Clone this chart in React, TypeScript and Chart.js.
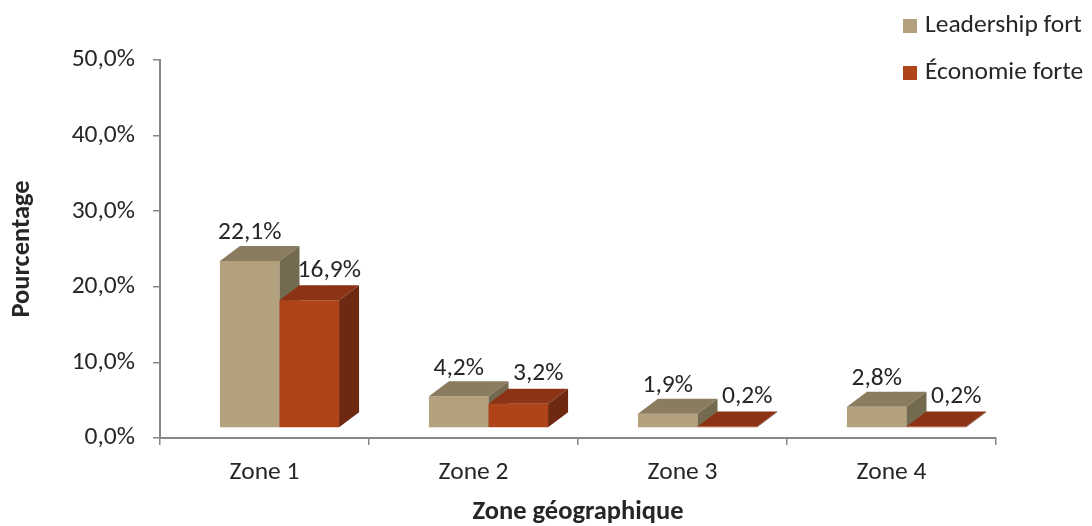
import React, { useEffect, useRef } from "react";
import { Chart, registerables } from "chart.js";

Chart.register(...registerables);

// ---- data ----
const categories = ["Zone 1", "Zone 2", "Zone 3", "Zone 4"];
const seriesNames = ["Leadership fort", "Économie forte"];
const leadershipFort = [22.1, 4.2, 1.9, 2.8];
const economieForte = [16.9, 3.2, 0.2, 0.2];
const yTickValues = [0, 10, 20, 30, 40, 50];
const xTitle = "Zone géographique";
const yTitle = "Pourcentage";

// ---- styles ----
const FONT = "Calibri, Carlito, 'Open Sans', sans-serif";
const FS = 25.5;
const TFS = 26.5;
const TEXT = "#262626";
const AXIS = "#878787";
const FACES = [
  { front: "#B3A07D", top: "#8A7D5F", side: "#746A50" },
  { front: "#B04318", top: "#8B3314", side: "#6F2910" },
];
const DEPTH_X = 20;
const DEPTH_Y = 15;
const SHIFT_X = 15;
const SHIFT_Y = 10;
const LABEL_DX = [0, 20];
const LABEL_DY = [28, 30];

const fmt = (v: number) => v.toFixed(1).replace(".", ",") + "%";

const bars3d = {
  id: "bars3d",
  afterDatasetsDraw(chart: any) {
    const ctx = chart.ctx;
    const n = chart.data.labels.length;
    const metas = chart.data.datasets.map((_: any, i: number) => chart.getDatasetMeta(i));
    ctx.save();
    for (let j = 0; j < n; j++) {
      metas.forEach((meta: any, i: number) => {
        const el = meta.data[j];
        const { x, y, base, width } = el.getProps(["x", "y", "base", "width"], true);
        const l = x - width / 2 + SHIFT_X;
        const r = x + width / 2 + SHIFT_X;
        const t = y - SHIFT_Y;
        const b = base - SHIFT_Y;
        const f = FACES[i];
        ctx.fillStyle = f.front;
        ctx.fillRect(l, t, r - l, b - t);
        ctx.fillStyle = f.top;
        ctx.beginPath();
        ctx.moveTo(l, t);
        ctx.lineTo(l + DEPTH_X, t - DEPTH_Y);
        ctx.lineTo(r + DEPTH_X, t - DEPTH_Y);
        ctx.lineTo(r, t);
        ctx.closePath();
        ctx.fill();
        ctx.fillStyle = f.side;
        ctx.beginPath();
        ctx.moveTo(r, t);
        ctx.lineTo(r + DEPTH_X, t - DEPTH_Y);
        ctx.lineTo(r + DEPTH_X, b - DEPTH_Y);
        ctx.lineTo(r, b);
        ctx.closePath();
        ctx.fill();
      });
    }
    ctx.fillStyle = TEXT;
    ctx.font = `${FS}px ${FONT}`;
    ctx.textAlign = "center";
    ctx.textBaseline = "middle";
    metas.forEach((meta: any, i: number) => {
      const data = chart.data.datasets[i].data;
      meta.data.forEach((el: any, j: number) => {
        const { x, y } = el.getProps(["x", "y"], true);
        ctx.fillText(fmt(data[j]), x + SHIFT_X + LABEL_DX[i], y - SHIFT_Y - LABEL_DY[i]);
      });
    });
    ctx.restore();
  },
};

const legendCustom = {
  id: "legendCustom",
  afterDraw(chart: any) {
    const ctx = chart.ctx;
    ctx.save();
    ctx.font = `${FS}px ${FONT}`;
    ctx.textAlign = "left";
    ctx.textBaseline = "middle";
    seriesNames.forEach((name, i) => {
      const cy = 26 + i * 47;
      ctx.fillStyle = FACES[i].front;
      ctx.fillRect(903, cy - 7, 14, 14);
      ctx.fillStyle = TEXT;
      ctx.fillText(name, 925, cy);
    });
    ctx.restore();
  },
};

export default function App() {
  const ref = useRef<HTMLCanvasElement | null>(null);
  useEffect(() => {
    if (!ref.current) return;
    const chart = new Chart(ref.current, {
      type: "bar",
      data: {
        labels: categories,
        datasets: [
          { label: seriesNames[0], data: leadershipFort, backgroundColor: "rgba(0,0,0,0)", borderWidth: 0 },
          { label: seriesNames[1], data: economieForte, backgroundColor: "rgba(0,0,0,0)", borderWidth: 0 },
        ],
      },
      options: {
        animation: false,
        responsive: false,
        maintainAspectRatio: false,
        layout: { padding: { top: 60, right: 96, left: 0, bottom: 0 } },
        categoryPercentage: 0.57,
        barPercentage: 1,
        plugins: { legend: { display: false }, tooltip: { enabled: false } },
        scales: {
          x: {
            grid: { display: true, drawOnChartArea: false, drawTicks: true, tickLength: 7, color: AXIS, lineWidth: 1.5, offset: true },
            border: { display: true, color: AXIS, width: 2 },
            ticks: { color: TEXT, font: { family: FONT, size: FS }, padding: 12.5 },
            title: { display: true, text: xTitle, color: TEXT, font: { family: FONT, size: TFS, weight: "bold", lineHeight: 1 }, padding: { top: 0, bottom: 0 } },
            afterFit: (s: any) => { s.height = 88; },
          },
          y: {
            min: 0,
            max: 50,
            afterBuildTicks: (s: any) => { s.ticks = yTickValues.map((v) => ({ value: v })); },
            grid: { display: true, drawOnChartArea: false, drawTicks: true, tickLength: 7, color: AXIS, lineWidth: 1.5 },
            border: { display: true, color: AXIS, width: 2 },
            ticks: { color: TEXT, font: { family: FONT, size: FS }, padding: 18, callback: (v: any) => fmt(Number(v)) },
            title: { display: true, text: yTitle, color: TEXT, font: { family: FONT, size: TFS, weight: "bold", lineHeight: 1 }, padding: { top: 9, bottom: 0 } },
            afterFit: (s: any) => { s.width = 160; },
          },
        },
      },
      plugins: [bars3d, legendCustom],
    } as any);
    return () => chart.destroy();
  }, []);
  return (
    <div style={{ position: "fixed", left: 0, top: 0, width: 1092, height: 526, background: "#fff" }}>
      <canvas ref={ref} width={1092} height={526} style={{ display: "block", width: 1092, height: 526 }} />
    </div>
  );
}
